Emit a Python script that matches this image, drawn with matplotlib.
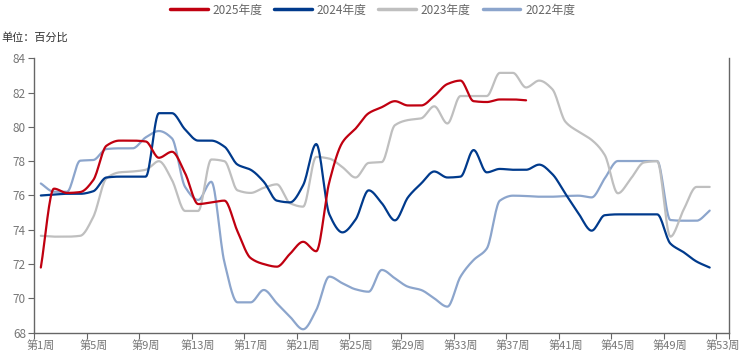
import numpy as np
import matplotlib
matplotlib.use("Agg")
import matplotlib.pyplot as plt

plt.rcParams['font.family'] = ['Noto Sans CJK SC', 'DejaVu Sans']

### DATA ###
weeks = np.arange(1, 54)
week_labels = ['第%d周' % w for w in weeks]

y2025 = [71.8, 76.4, 76.15, 76.2, 76.9, 78.9, 79.2, 79.2, 79.15, 78.2,
         78.55, 77.3, 75.5, 75.6, 75.7, 73.9, 72.35, 72.0, 71.85, 72.6,
         73.3, 72.75, 76.8, 79.1, 79.9, 80.8, 81.15, 81.5, 81.25, 81.25,
         81.8, 82.5, 82.7, 81.5, 81.45, 81.6, 81.6, 81.55]

y2024 = [76.0, 76.05, 76.1, 76.1, 76.25, 77.05, 77.1, 77.1, 77.1, 80.8,
         80.8, 79.85, 79.2, 79.2, 78.85, 77.8, 77.5, 76.8, 75.7, 75.6,
         76.6, 79.0, 74.9, 73.85, 74.6, 76.3, 75.55, 74.55, 75.9, 76.7,
         77.4, 77.05, 77.1, 78.65, 77.35, 77.55, 77.5, 77.5, 77.8, 77.25,
         76.1, 74.95, 73.95, 74.85, 74.9, 74.9, 74.9, 74.9, 73.2, 72.7,
         72.15, 71.8]

y2023 = [73.65, 73.6, 73.6, 73.65, 74.75, 77.0, 77.35, 77.4, 77.5, 78.0,
         76.9, 75.1, 75.1, 78.1, 78.0, 76.3, 76.15, 76.45, 76.65, 75.55,
         75.35, 78.25, 78.15, 77.65, 77.05, 77.9, 77.95, 80.1, 80.4, 80.5,
         81.2, 80.2, 81.8, 81.8, 81.8, 83.15, 83.15, 82.3, 82.7, 82.2,
         80.3, 79.72, 79.24, 78.36, 76.13, 77.0, 77.93, 78.0, 73.6, 75.15,
         76.5, 76.5]

y2022 = [76.7, 76.22, 76.22, 78.03, 78.07, 78.71, 78.75, 78.75, 79.39, 79.76,
         79.33, 76.5, 75.74, 76.8, 72.1, 69.77, 69.77, 70.49, 69.71, 68.93,
         68.2, 69.32, 71.27, 70.88, 70.53, 70.39, 71.66, 71.17, 70.68, 70.49,
         70.0, 69.52, 71.27, 72.24, 72.9, 75.7, 75.99, 75.97, 75.93, 75.93,
         75.97, 75.99, 75.89, 77.0, 78.01, 78.01, 78.01, 78.01, 74.57, 74.53,
         74.53, 75.12]

series = [('2025年度', y2025, '#C00010'),
          ('2024年度', y2024, '#003A8C'),
          ('2023年度', y2023, '#BFBFBF'),
          ('2022年度', y2022, '#8CA5CC')]


def smooth(x, y, n=16):
    # monotone cubic (Fritsch-Carlson) so the drawn line is smooth like the original
    x = np.asarray(x, float)
    y = np.asarray(y, float)
    h = np.diff(x)
    d = np.diff(y) / h
    m = np.zeros_like(y)
    m[0], m[-1] = d[0], d[-1]
    for k in range(1, len(y) - 1):
        if d[k - 1] * d[k] > 0:
            w1 = 2 * h[k] + h[k - 1]
            w2 = h[k] + 2 * h[k - 1]
            m[k] = (w1 + w2) / (w1 / d[k - 1] + w2 / d[k])
    xs, ys = [], []
    for k in range(len(x) - 1):
        t = np.linspace(0, 1, n, endpoint=False)
        h00 = 2 * t**3 - 3 * t**2 + 1
        h10 = t**3 - 2 * t**2 + t
        h01 = -2 * t**3 + 3 * t**2
        h11 = t**3 - t**2
        xs.append(x[k] + t * h[k])
        ys.append(h00 * y[k] + h10 * h[k] * m[k] + h01 * y[k + 1] + h11 * h[k] * m[k + 1])
    xs.append([x[-1]])
    ys.append([y[-1]])
    return np.concatenate(xs), np.concatenate(ys)


### PLOT ###
fig = plt.figure(figsize=(7.45, 3.61), dpi=100)
ax = fig.add_axes([0.046, 0.0784, 0.933, 0.7601])

for name, vals, col in series[::-1]:
    xs, ys = smooth(weeks[:len(vals)], vals)
    ax.plot(xs, ys, color=col, lw=1.6, label=name, solid_capstyle='round')

ax.set_xlim(0.5, 53.5)
ax.set_ylim(68, 84)
ax.set_yticks(np.arange(68, 85, 2))

ax.set_xticks(np.append(np.arange(0.5, 53, 4), 53.5))
ax.set_xticklabels([])
ax.set_xticks(weeks[::4], minor=True)
ax.set_xticklabels(week_labels[::4], minor=True)
ax.tick_params(axis='x', which='minor', length=0, pad=5, labelsize=8, labelcolor='#777777')
ax.tick_params(axis='x', which='major', length=4, color='#666666')
ax.tick_params(axis='y', length=4, color='#666666', labelsize=8.5, labelcolor='#777777', pad=2)

for s in ['left', 'bottom', 'right']:
    ax.spines[s].set_color('#666666')
    ax.spines[s].set_linewidth(1.0)
ax.spines['top'].set_visible(False)

handles, labels = ax.get_legend_handles_labels()
leg = fig.legend(handles[::-1], labels[::-1], loc='upper center', bbox_to_anchor=(0.5, 1.02),
                 ncol=4, frameon=False, fontsize=8.5, handlelength=3.2,
                 handletextpad=0.4, columnspacing=1.0)
for line in leg.get_lines():
    line.set_linewidth(2.5)
for t in leg.get_texts():
    t.set_color('#666666')

fig.text(0.002, 1 - 37 / 361, '单位：百分比', fontsize=8, color='#333333', va='center')

fig.savefig('out.png', dpi=100)
